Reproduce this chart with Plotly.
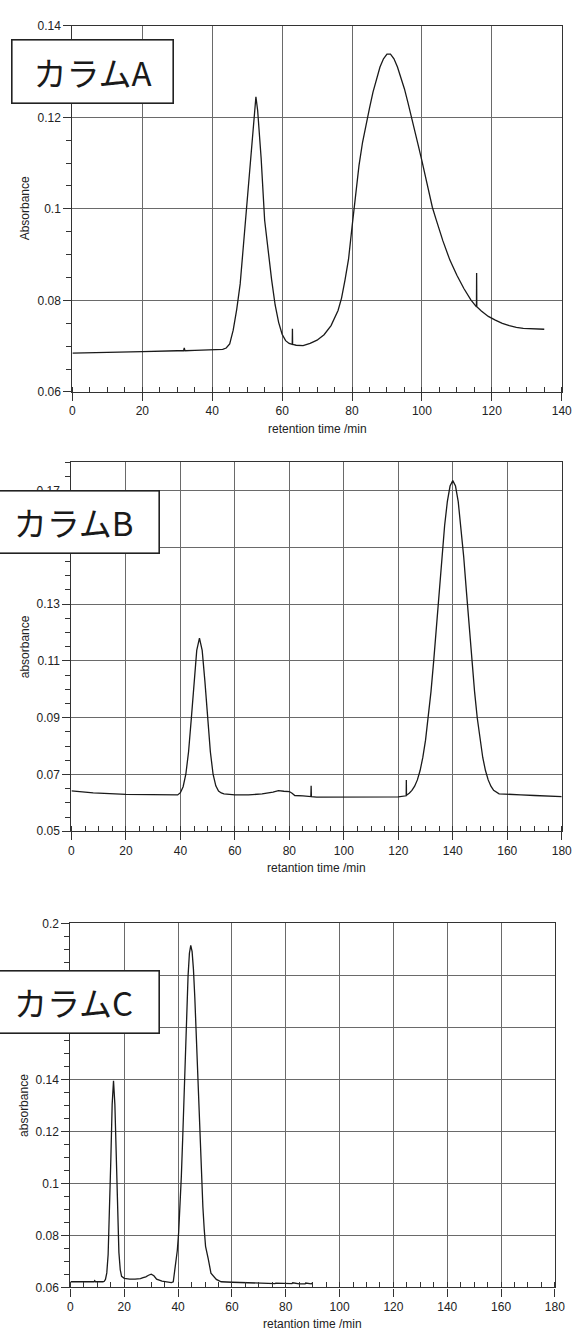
import plotly.graph_objects as go

# ---------------- data ----------------
# Column A
a_time = [0, 10, 20, 30, 31.8, 32, 32.2, 35, 40, 43, 44, 45, 46, 47, 48, 49, 50, 51, 52, 52.5,
          53, 54, 55, 56, 57, 58, 59, 60, 61, 62, 62.9, 62.95, 63.0, 64, 66, 68, 70, 72, 74, 76,
          77, 78, 79, 80, 81, 82, 83, 84, 85, 86, 87, 88, 89, 90, 91, 92, 93, 94, 95, 96, 97, 98,
          99, 100, 102, 103, 104, 106, 108, 110, 112, 114, 115.6, 115.65, 115.7, 117, 119, 121,
          123, 125, 127, 129, 131, 133, 135]
a_abs = [0.0685, 0.0686, 0.0688, 0.0690, 0.0690, 0.0696, 0.0690, 0.0691, 0.0692, 0.0693, 0.0696,
         0.0705, 0.0735, 0.0780, 0.0836, 0.0925, 0.1018, 0.1108, 0.1200, 0.1245,
         0.1215, 0.1110, 0.0975, 0.0905, 0.0845, 0.0790, 0.0752, 0.0726, 0.0712, 0.0706, 0.0704,
         0.0738, 0.0704, 0.0702, 0.0701, 0.0706, 0.0713, 0.0725, 0.0745, 0.0778,
         0.0805, 0.0845, 0.0890, 0.0960, 0.1035, 0.1095, 0.1145, 0.1185, 0.1220, 0.1255, 0.1285,
         0.1310, 0.1328, 0.1338, 0.1338, 0.1328, 0.1310, 0.1288, 0.1262, 0.1232, 0.1202, 0.1170,
         0.1137, 0.1105, 0.1038, 0.1003, 0.0978, 0.0930, 0.0888, 0.0855, 0.0826, 0.0801, 0.0786,
         0.0860, 0.0786, 0.0777, 0.0765, 0.0757, 0.0750, 0.0745, 0.0741, 0.0739, 0.0738, 0.0737,
         0.0737]

# Column B
b_time = [0, 3, 8, 20, 30, 36, 39, 40, 41, 42, 43, 44, 45, 46, 47, 48, 49, 50, 51, 52, 53, 54,
          55, 56, 60, 65, 70, 74, 76, 78, 80, 81, 82, 85, 87.9, 88.0, 88.1, 90, 100, 110, 120,
          122.9, 122.95, 123.0, 124, 125, 126, 127, 128, 129, 130, 131, 132, 133, 134, 135, 136,
          137, 138, 139, 140, 141, 142, 143, 144, 145, 146, 147, 148, 149, 150, 151, 152, 153,
          154, 155, 157, 160, 165, 170, 175, 180]
b_abs = [0.0642, 0.0640, 0.0635, 0.0630, 0.0629, 0.0626, 0.0628, 0.0636, 0.0657, 0.0701, 0.0780,
         0.0896, 0.1028, 0.1137, 0.1180, 0.1137, 0.1028, 0.0896, 0.0780, 0.0701, 0.0660, 0.0642,
         0.0635, 0.0632, 0.0628, 0.0628, 0.0632, 0.0638, 0.0643, 0.0641, 0.0640, 0.0634, 0.0626,
         0.0625, 0.0622, 0.0660, 0.0622, 0.0620, 0.0620, 0.0620, 0.0621,
         0.0625, 0.0681, 0.0627, 0.0634, 0.0644, 0.0659, 0.0681, 0.0714, 0.0760, 0.0821, 0.0898,
         0.0992, 0.1101, 0.1222, 0.1346, 0.1468, 0.1576, 0.1661, 0.1716, 0.1735, 0.1716, 0.1661,
         0.1576, 0.1468, 0.1346, 0.1222, 0.1101, 0.0992, 0.0898, 0.0821, 0.0760, 0.0714, 0.0681,
         0.0659, 0.0644, 0.0632, 0.0630, 0.0628, 0.0626, 0.0624, 0.0622]

# Column C
c_time = [0, 5, 8.8, 9.0, 9.3, 12, 12.5, 13, 13.5, 14, 14.5, 15, 15.5, 16, 16.5, 17, 17.5, 18,
          18.5, 19, 20, 22, 24, 26, 27, 28, 29, 30, 31, 32, 34, 36, 37.5,
          38.2, 38.7, 39.2, 39.7, 40.2, 40.7, 41.2, 41.7, 42.2, 42.7, 43.2, 43.7, 44.2,
          44.7, 45.2, 45.7, 46.2, 46.7, 47.2, 47.7, 48.2, 48.7, 49.2, 49.7, 50.2, 51.2, 52.2,
          54.2, 56, 60, 65, 70, 75, 76, 76.3, 80, 82, 82.3, 82.6, 85, 87, 87.2, 87.4, 89, 89.5, 90]
c_abs = [0.0622, 0.0622, 0.0622, 0.0626, 0.0622, 0.0622, 0.0623, 0.0631, 0.0656, 0.0727, 0.0873,
         0.1091, 0.1304, 0.1395, 0.1304, 0.1091, 0.0873, 0.0735, 0.0668,
         0.0643, 0.0635, 0.0632, 0.0632, 0.0634, 0.0638, 0.0641, 0.0647, 0.0651, 0.0645, 0.0632,
         0.0624, 0.0620, 0.0619, 0.0622,
         0.0663, 0.0694, 0.0742, 0.0811, 0.0905, 0.1027, 0.1173, 0.1337, 0.1507, 0.1667, 0.1798,
         0.1885, 0.1915,
         0.1891, 0.1823, 0.1716, 0.1583, 0.1436, 0.1286, 0.1143, 0.1017, 0.0910, 0.0824, 0.0758,
         0.0710, 0.0655, 0.0631,
         0.0622, 0.0620, 0.0618, 0.0617, 0.0616, 0.0615, 0.0617, 0.0615, 0.0614, 0.0615, 0.0618,
         0.0614, 0.0614, 0.0614, 0.0617, 0.0614, 0.0614, 0.0618, 0.0624]

# tick labels hidden behind the label boxes in the original are left blank
a_yticks = [0.06, 0.08, 0.10, 0.12, 0.14]
a_ylabels = ["0.06", "0.08", "0.1", "0.12", "0.14"]
b_yticks = [0.05, 0.07, 0.09, 0.11, 0.13, 0.15, 0.17]
b_ylabels = ["0.05", "0.07", "0.09", "0.11", "0.13", "", "0.17"]
c_yticks = [0.06, 0.08, 0.10, 0.12, 0.14, 0.16, 0.18, 0.20]
c_ylabels = ["0.06", "0.08", "0.1", "0.12", "0.14", "", "", "0.2"]

labels = ["カラムA", "カラムB", "カラムC"]
x_titles = ["retention time /min", "retantion time /min", "retantion time /min"]
y_titles = ["Absorbance", "absorbance", "absorbance"]

# ---------------- layout helpers ----------------
W, H = 582, 1338
def px(x):
    return x / W
def py(y):
    return 1 - y / H

# panel frames in pixels: left, right, top, bottom
frames = [(71, 571.5, 19, 389), (70, 571.5, 460, 833), (69, 564.5, 926, 1294)]
xranges = [[0, 140], [0, 180], [0, 180]]
yranges = [[0.06, 0.14], [0.05, 0.18], [0.06, 0.20]]
yticks = [(a_yticks, a_ylabels), (b_yticks, b_ylabels), (c_yticks, c_ylabels)]
series = [(a_time, a_abs), (b_time, b_abs), (c_time, c_abs)]

tick_font = dict(family="Liberation Sans, Arial, sans-serif", size=12, color="#222")
grid_col = "#6a6a6a"
line_col = "#333333"

fig = go.Figure()
layout = dict(width=W, height=H, margin=dict(l=0, r=0, t=0, b=0),
              paper_bgcolor="white", plot_bgcolor="white", showlegend=False)
annotations = []

for i in range(3):
    sfx = "" if i == 0 else str(i + 1)
    l, r, t, b = frames[i]
    t_x, t_y = series[i]
    fig.add_trace(go.Scatter(x=t_x, y=t_y, mode="lines",
                             line=dict(color="#1a1a1a", width=1.3),
                             xaxis="x" + sfx, yaxis="y" + sfx, hoverinfo="skip"))
    layout["xaxis" + sfx] = dict(
        domain=[px(l), px(r)], anchor="y" + sfx, range=xranges[i],
        tickmode="linear", tick0=0, dtick=20, ticks="outside", ticklen=8,
        tickcolor=line_col, tickwidth=1, showline=True, linecolor=line_col, linewidth=1.3,
        mirror=True, showgrid=True, gridcolor=grid_col, gridwidth=1, zeroline=False,
        tickfont=tick_font,
        minor=dict(tickmode="linear", tick0=0, dtick=5, ticks="inside", ticklen=5,
                   tickcolor=line_col, showgrid=False))
    tv, tt = yticks[i]
    layout["yaxis" + sfx] = dict(
        domain=[py(b), py(t)], anchor="x" + sfx, range=yranges[i],
        tickmode="array", tickvals=tv, ticktext=tt, ticks="outside", ticklen=8,
        tickcolor=line_col, tickwidth=1, showline=True, linecolor=line_col, linewidth=1.3,
        mirror=True, showgrid=True, gridcolor=grid_col, gridwidth=1, zeroline=False,
        tickfont=tick_font,
        minor=dict(tickmode="linear", tick0=0, dtick=0.005, ticks="outside", ticklen=5,
                   tickcolor=line_col, showgrid=False))
    # axis titles
    annotations.append(dict(text=x_titles[i], xref="paper", yref="paper",
                            x=px((l + r) / 2), y=py(b + 37), xanchor="center", yanchor="middle",
                            showarrow=False, font=dict(family="Liberation Sans, Arial", size=12, color="#222")))
    annotations.append(dict(text=y_titles[i], xref="paper", yref="paper", textangle=-90,
                            x=px(22), y=py((t + b) / 2), xanchor="center", yanchor="middle",
                            showarrow=False, font=dict(family="Liberation Sans, Arial", size=12, color="#222")))

# column label boxes (center x, center y, width, height in px)
boxes = [(92, 65, 160, 62), (72, 520.5, 170, 61), (72, 1005.5, 170, 61)]
for i, (cx, cy, bw, bh) in enumerate(boxes):
    annotations.append(dict(text=labels[i], xref="paper", yref="paper",
                            x=px(cx), y=py(cy), xanchor="center", yanchor="middle",
                            width=bw, height=bh, align="center", valign="middle",
                            showarrow=False, bgcolor="white", bordercolor="#222",
                            borderwidth=1.6, borderpad=0,
                            font=dict(family="Noto Sans CJK JP", size=33, color="#1a1a1a")))

layout["annotations"] = annotations
fig.update_layout(**layout)
fig.write_html("out.html")
